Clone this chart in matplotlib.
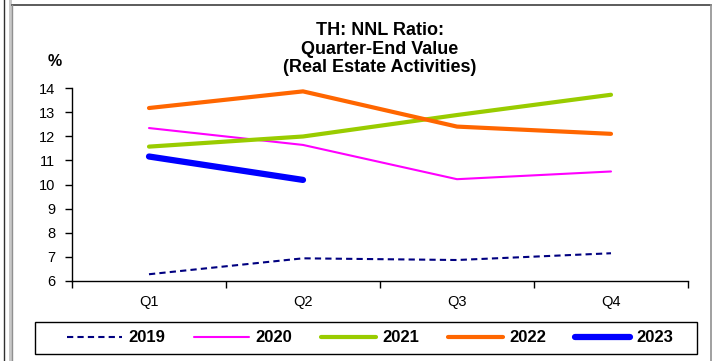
import numpy as np
import matplotlib
matplotlib.use('Agg')
import matplotlib.pyplot as plt
from matplotlib.lines import Line2D
from matplotlib.patches import Rectangle

plt.rcParams['font.family'] = ['Liberation Sans', 'DejaVu Sans']

# data
quarters = ['Q1', 'Q2', 'Q3', 'Q4']
years = ['2019', '2020', '2021', '2022', '2023']
nnl_2019 = [6.28, 6.94, 6.87, 7.15]
nnl_2020 = [12.34, 11.64, 10.22, 10.54]
nnl_2021 = [11.57, 11.99, 12.88, 13.72]
nnl_2022 = [13.17, 13.86, 12.40, 12.10]
nnl_2023 = [11.16, 10.19]
y_ticks = [6, 7, 8, 9, 10, 11, 12, 13, 14]

series = [nnl_2019, nnl_2020, nnl_2021, nnl_2022, nnl_2023]
colors = ['#000080', '#FF00FF', '#99CC00', '#FF6600', '#0000FF']
widths = [1.5, 1.5, 3.0, 3.0, 4.5]
styles = [(0, (3, 2)), '-', '-', '-', '-']

W, H = 712, 361
fig = plt.figure(figsize=(W / 100, H / 100), dpi=100)

# outer frame: thin strip on the left, border around the chart area
fig.add_artist(Line2D([3.5 / W, 3.5 / W], [0, 1], color='#303030', lw=1.0))
fig.add_artist(Rectangle((8.5 / W, 0), 3.5 / W, 1, color='#c8c8c8', lw=0))
fig.add_artist(Line2D([12 / W, 711 / W], [1 - 4.5 / H, 1 - 4.5 / H], color='#404040', lw=1.2))
fig.add_artist(Line2D([12 / W, 12 / W], [0, 1 - 4.5 / H], color='#909090', lw=1.0))
fig.add_artist(Line2D([710.5 / W, 710.5 / W], [0, 1 - 4.5 / H], color='#909090', lw=1.2))

ax = fig.add_axes([72 / W, 1 - 281 / H, 616 / W, 193 / H])
x = np.arange(len(quarters))
for vals, c, lw, ls, lab in zip(series, colors, widths, styles, years):
    ax.plot(x[:len(vals)], vals, color=c, lw=lw, ls=ls, label=lab,
            solid_capstyle='round', dash_capstyle='butt')

ax.set_xlim(-0.5, len(quarters) - 0.5)
ax.set_ylim(y_ticks[0], y_ticks[-1])
ax.set_yticks(y_ticks)
ax.set_xticks(np.arange(len(quarters) + 1) - 0.5)
ax.set_xticklabels([])
ax.set_xticks(x, minor=True)
ax.set_xticklabels(quarters, minor=True)
ax.tick_params(axis='x', which='major', length=5, direction='out', width=1)
ax.tick_params(axis='x', which='minor', length=0, pad=10, labelsize=10.5)
ax.tick_params(axis='y', length=5, width=1, labelsize=10.5, pad=7)
for s in ['top', 'right']:
    ax.spines[s].set_visible(False)
for s in ['left', 'bottom']:
    ax.spines[s].set_linewidth(1.0)

fig.text(380 / W, 1 - 49 / H, 'TH: NNL Ratio:\nQuarter-End Value\n(Real Estate Activities)',
         ha='center', va='center', fontsize=13, fontweight='bold', linespacing=1.12)
fig.text(55 / W, 1 - 61 / H, '%', ha='center', va='center', fontsize=11.5, fontweight='bold')

# legend box drawn separately so its size can be set exactly
fig.add_artist(Rectangle((35 / W, 1 - 354 / H), 662 / W, 32 / H, fill=False,
                         edgecolor='black', lw=1.0))
leg = fig.legend(loc='center', bbox_to_anchor=(370 / W, 1 - 338 / H), ncol=5,
                 prop={'weight': 'bold', 'size': 12}, frameon=False,
                 handlelength=3.3, columnspacing=1.75, handletextpad=0.36,
                 borderpad=0, borderaxespad=0)

fig.savefig('out.png', dpi=100)
